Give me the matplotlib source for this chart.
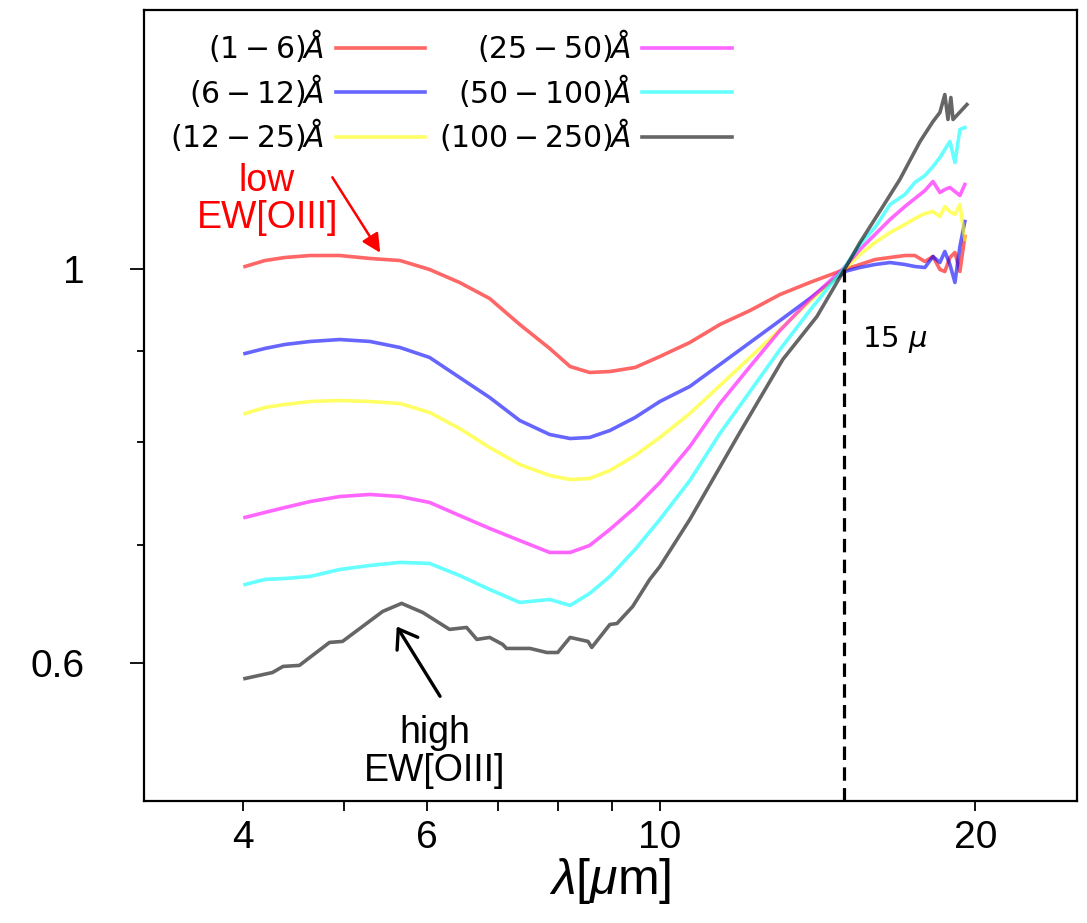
import matplotlib
matplotlib.use("Agg")
import matplotlib.pyplot as plt
from matplotlib.font_manager import FontProperties
from matplotlib.ticker import NullFormatter

plt.rcParams['mathtext.fontset'] = 'custom'
plt.rcParams['mathtext.rm'] = 'Liberation Sans'
plt.rcParams['mathtext.it'] = 'Liberation Sans:italic'
plt.rcParams['mathtext.bf'] = 'Liberation Sans:bold'

# wavelength grid (micron) shared by the first five stacks
lam = [4.02, 4.20, 4.39, 4.64, 4.95, 5.29, 5.65, 6.03, 6.44, 6.88, 7.35, 7.85,
       8.21, 8.57, 8.96, 9.47, 10.0, 10.68, 11.41, 12.19, 13.02, 13.90, 15.0,
       15.52, 16.04, 16.58, 17.13, 17.51, 17.90, 18.22, 18.50, 18.70, 18.91,
       19.12, 19.33, 19.54]

f_1_6 = [1.0039, 1.0117, 1.0157, 1.0183, 1.0183, 1.0144, 1.0117, 1.0000, 0.9833,
         0.9631, 0.9312, 0.9027, 0.8818, 0.8750, 0.8761, 0.8807, 0.8933, 0.9097,
         0.9312, 0.9482, 0.9681, 0.9833, 1.0000, 1.0065, 1.0130, 1.0157, 1.0183,
         1.0183, 1.0104, 1.0170, 1.0000, 0.9974, 1.0157, 1.0223, 0.9974, 1.0437]
f_6_12 = [0.8968, 0.9027, 0.9074, 0.9109, 0.9132, 0.9109, 0.9038, 0.8922, 0.8694,
          0.8471, 0.8222, 0.8074, 0.8032, 0.8043, 0.8116, 0.8254, 0.8427, 0.8593,
          0.8841, 0.9097, 0.9360, 0.9631, 0.9974, 1.0026, 1.0065, 1.0091, 1.0065,
          1.0039, 1.0026, 1.0170, 1.0091, 1.0236, 1.0065, 0.9833, 1.0303, 1.0642]
f_12_25 = [0.8297, 0.8362, 0.8395, 0.8427, 0.8438, 0.8427, 0.8405, 0.8308, 0.8137,
           0.7939, 0.7766, 0.7656, 0.7616, 0.7626, 0.7706, 0.7858, 0.8043, 0.8297,
           0.8604, 0.8922, 0.9252, 0.9594, 1.0000, 1.0196, 1.0356, 1.0491, 1.0601,
           1.0684, 1.0753, 1.0781, 1.0711, 1.0851, 1.0781, 1.0739, 1.0879, 1.0397]
f_25_50 = [0.7251, 0.7298, 0.7345, 0.7402, 0.7450, 0.7470, 0.7450, 0.7393, 0.7269,
           0.7148, 0.7037, 0.6929, 0.6929, 0.6992, 0.7139, 0.7345, 0.7587, 0.7949,
           0.8405, 0.8818, 0.9240, 0.9619, 1.0026, 1.0263, 1.0464, 1.0670, 1.0851,
           1.0964, 1.1078, 1.1209, 1.1050, 1.1093, 1.1122, 1.1064, 1.1007, 1.1165]
f_50_100 = [0.6647, 0.6691, 0.6699, 0.6717, 0.6778, 0.6813, 0.6840, 0.6831, 0.6725,
            0.6604, 0.6494, 0.6519, 0.6469, 0.6570, 0.6717, 0.6956, 0.7232, 0.7606,
            0.8085, 0.8537, 0.9015, 0.9482, 1.0026, 1.0330, 1.0560, 1.0879, 1.1021,
            1.1194, 1.1296, 1.1428, 1.1563, 1.1683, 1.1806, 1.1488, 1.1990, 1.2021]

# the noisiest stack has its own sampling
lam_100_250 = [4.02, 4.27, 4.37, 4.53, 4.84, 4.98, 5.44, 5.67, 5.94, 6.30, 6.54, 6.69,
               6.88, 7.08, 7.14, 7.52, 7.80, 7.99, 8.21, 8.54, 8.61, 8.96, 9.10, 9.42,
               9.78, 10.0, 10.68, 11.92, 13.10, 14.12, 15.0, 15.52, 16.32, 16.94,
               17.71, 18.22, 18.50, 18.70, 18.83, 18.95, 19.04, 19.63]
f_100_250 = [0.5884, 0.5930, 0.5977, 0.5985, 0.6166, 0.6174, 0.6419, 0.6486, 0.6410,
             0.6271, 0.6287, 0.6190, 0.6206, 0.6150, 0.6118, 0.6118, 0.6086, 0.6086,
             0.6206, 0.6174, 0.6126, 0.6311, 0.6319, 0.6460, 0.6691, 0.6804, 0.7232,
             0.8095, 0.8899, 0.9409, 1.0000, 1.0356, 1.0851, 1.1238, 1.1806, 1.2115,
             1.2258, 1.2547, 1.2147, 1.2498, 1.2147, 1.2385]

labels = [r'$(1-6)\AA$', r'$(6-12)\AA$', r'$(12-25)\AA$',
          r'$(25-50)\AA$', r'$(50-100)\AA$', r'$(100-250)\AA$']
colors = ['red', 'blue', 'yellow', 'magenta', 'cyan', 'black']
series = [(lam, f_1_6), (lam, f_6_12), (lam, f_12_25),
          (lam, f_25_50), (lam, f_50_100), (lam_100_250, f_100_250)]

fig = plt.figure(figsize=(10.87, 9.23), dpi=100)
ax = fig.add_axes([144 / 1087, 1 - 801 / 923, 933 / 1087, 791 / 923])

for (x, y), c, lab in zip(series, colors, labels):
    ax.plot(x, y, color=c, alpha=0.6, lw=2.6, label=lab)

ax.set_xscale('log')
ax.set_yscale('log')
ax.set_xlim(3.22, 25.0)
ax.set_ylim(0.502, 1.40)

# 15 micron normalisation marker
ax.plot([15, 15], [0.502, 1.0], color='black', lw=2.3, ls=(0, (4.2, 2.3)))
ax.text(15.6, 0.913, r'15 $\mu$', va='center', ha='left',
        fontproperties=FontProperties(family='DejaVu Sans', size=21,
                                      math_fontfamily='dejavusans'))

tickfont = FontProperties(family='Liberation Sans', size=28)
ax.set_xticks([4, 6, 10, 20])
ax.set_xticklabels(['4', '6', '10', '20'], fontproperties=tickfont)
ax.set_xticks([5, 7, 8, 9], minor=True)
ax.xaxis.set_minor_formatter(NullFormatter())
ax.set_yticks([0.6, 1.0])
ax.set_yticklabels(['0.6', '1'], fontproperties=tickfont)
ax.set_yticks([0.7, 0.8, 0.9], minor=True)
ax.yaxis.set_minor_formatter(NullFormatter())
ax.tick_params(axis='x', which='both', direction='out', length=7, width=1.3, pad=7)
ax.tick_params(axis='y', which='major', direction='out', length=10, width=1.3, pad=33)
ax.tick_params(axis='y', which='minor', direction='out', length=5, width=1.3)
for s in ax.spines.values():
    s.set_linewidth(1.6)

ax.set_xlabel(r'$\lambda[\mu\mathrm{m}]$', fontsize=36, labelpad=0)

leg = ax.legend(ncol=2, loc='upper left', bbox_to_anchor=(0.028, 0.978),
                frameon=False, markerfirst=False, handlelength=3.0,
                handletextpad=0.4, columnspacing=0.45, labelspacing=0.25,
                borderpad=0, borderaxespad=0,
                prop=FontProperties(family='DejaVu Sans', size=21.5,
                                    math_fontfamily='dejavusans'))

ax.text(4.22, 1.095, 'low\nEW[OIII]', color='red', fontsize=27, ha='center',
        va='center', family='Liberation Sans', linespacing=1.05)
ax.annotate('', xy=(5.41, 1.022), xytext=(4.87, 1.127),
            arrowprops=dict(arrowstyle='-|>', color='red', lw=1.8,
                            mutation_scale=28, shrinkA=0, shrinkB=0))
ax.text(6.10, 0.535, 'high\nEW[OIII]', color='black', fontsize=27, ha='center',
        va='center', family='Liberation Sans', linespacing=1.05)
ax.annotate('', xy=(5.61, 0.6295), xytext=(6.17, 0.575),
            arrowprops=dict(arrowstyle='->,head_length=0.5,head_width=0.35',
                            color='black', lw=2.4, mutation_scale=25,
                            shrinkA=0, shrinkB=0))

fig.savefig('out.png', dpi=100)
